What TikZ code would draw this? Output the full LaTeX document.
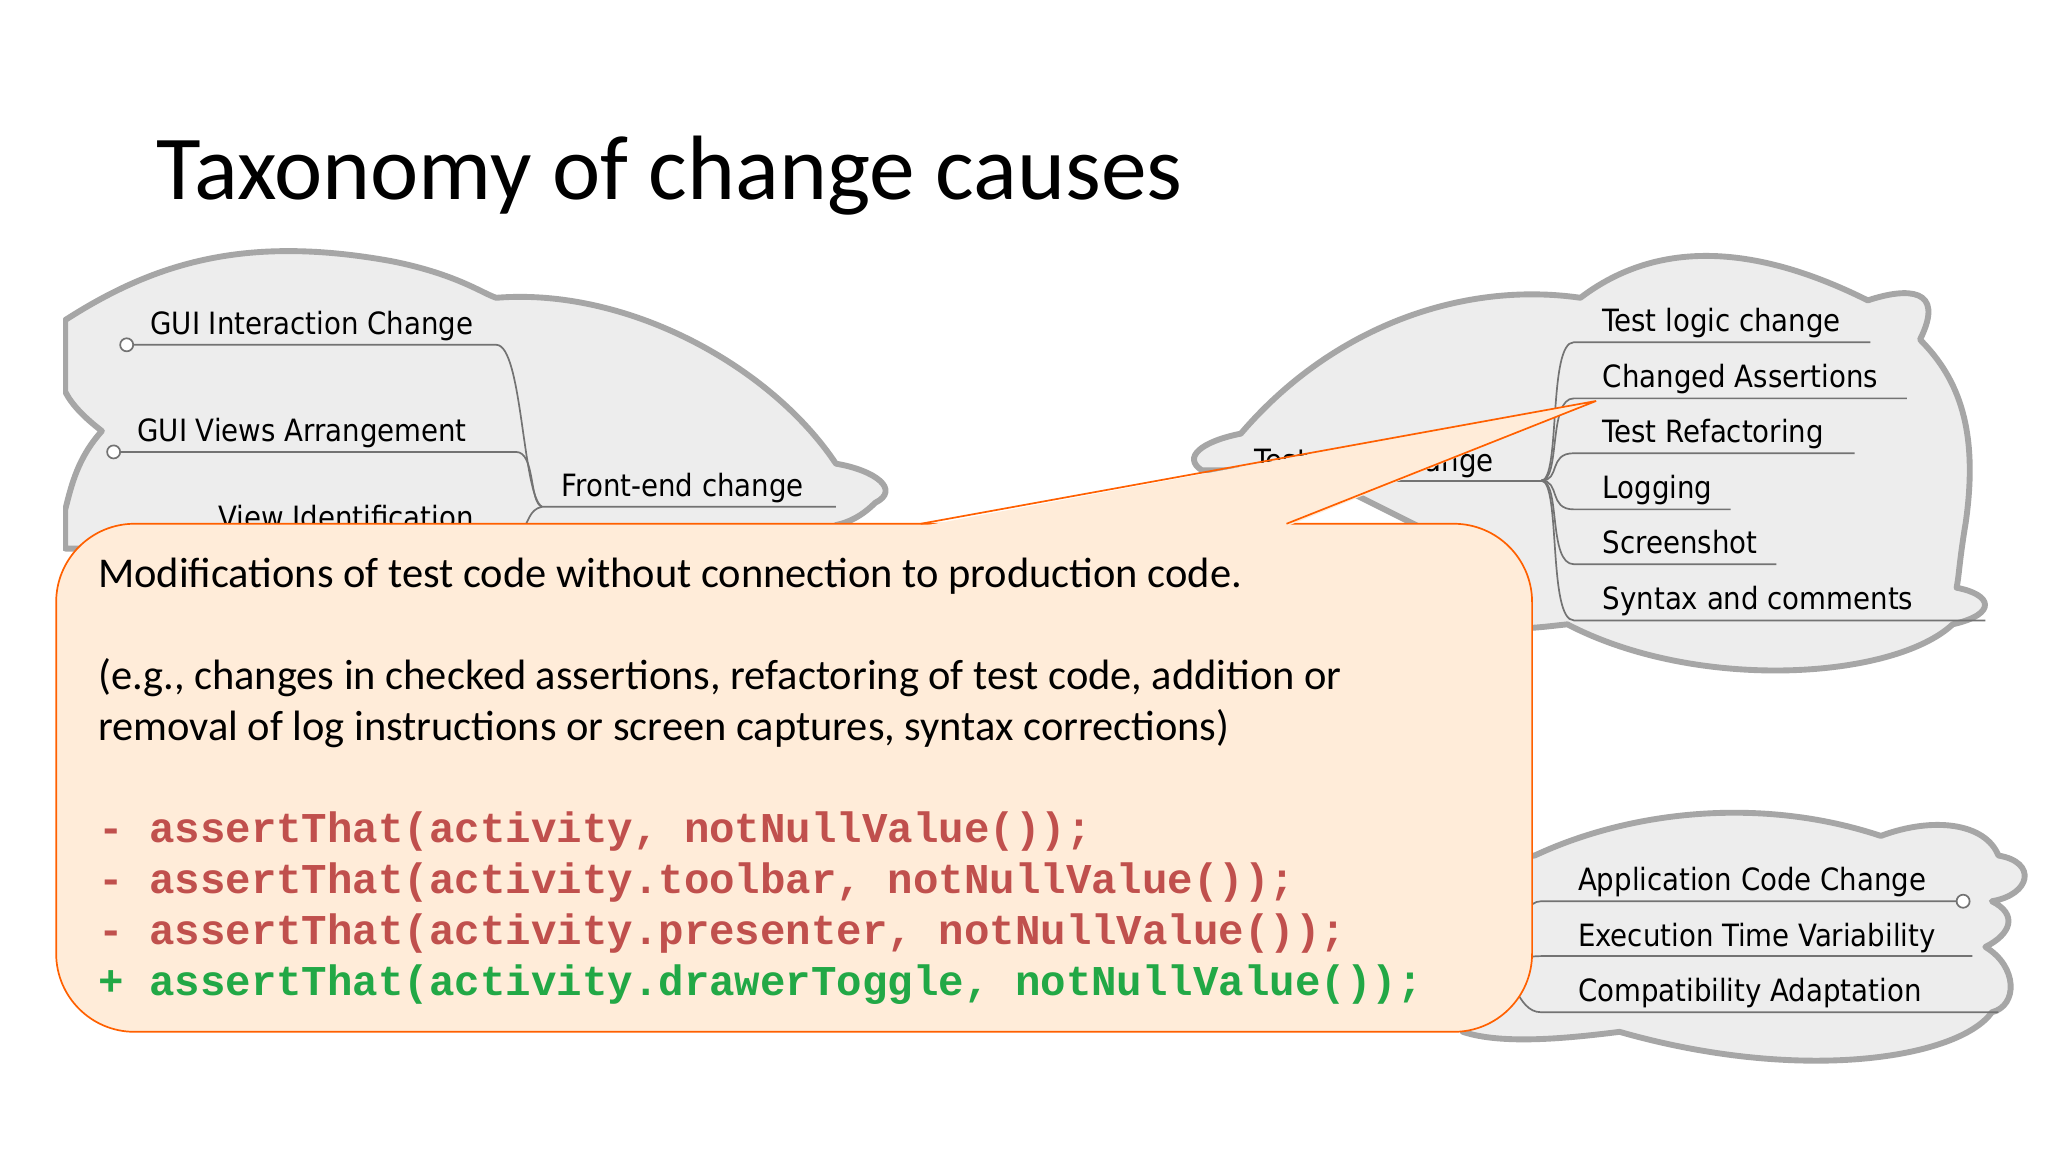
\documentclass[tikz,border=0pt]{standalone}
\usepackage{fontspec}
\setmainfont{Carlito}
\newfontfamily\lbl{DejaVu Sans Condensed}
\newfontfamily\code{Liberation Mono}
\begin{document}
\begin{tikzpicture}[x=1pt,y=-1pt,
  cloud/.style={fill=black!7,draw=black!35,line width=4.5pt,line join=round},
  br/.style={draw=black!55,line width=1.3pt},
  lab/.style={anchor=base west,inner sep=0,font=\lbl\fontsize{23.5}{26}\selectfont},
  txt/.style={anchor=base west,inner sep=0,font=\fontsize{32.5}{36}\selectfont},
  cd/.style={anchor=base west,inner sep=0,font=\code\bfseries\fontsize{32.5}{36}\selectfont}]
\useasboundingbox[fill=white] (0,0) rectangle (1568,882);
\node[anchor=base west,inner sep=0,font=\fontsize{70}{76}\selectfont] (title) at (120,153) {Taxonomy of change causes};
% left cloud
\draw[cloud] (50,245) .. controls (120,200) and (190,180) .. (300,200) .. controls (350,210) and (370,225) .. (380,228)
  .. controls (480,220) and (590,280) .. (640,355) .. controls (670,360) and (690,375) .. (670,385)
  .. controls (660,395) and (650,400) .. (640,402) -- (640,420) -- (50,420) -- (50,390)
  .. controls (55,370) and (60,350) .. (78,330) .. controls (65,320) and (55,310) .. (50,300) -- cycle;
\fill[white] (0,180) rectangle (48,430);
% right cloud
\draw[cloud] (920,360) .. controls (905,350) and (920,338) .. (950,332) .. controls (1020,250) and (1120,215) .. (1210,228)
  .. controls (1260,190) and (1330,180) .. (1430,230) .. controls (1460,220) and (1490,220) .. (1470,260)
  .. controls (1500,290) and (1515,330) .. (1505,400) .. controls (1500,430) and (1500,440) .. (1498,450)
  .. controls (1525,455) and (1530,470) .. (1495,478) .. controls (1450,520) and (1300,530) .. (1200,478)
  .. controls (1180,480) and (1150,485) .. (1120,476) -- (1120,420) -- (1000,360) -- cycle;
% bottom right cloud
\draw[cloud] (1175,655) .. controls (1250,620) and (1350,610) .. (1440,640) .. controls (1480,625) and (1520,630) .. (1530,655)
  .. controls (1560,660) and (1555,685) .. (1525,690) .. controls (1545,700) and (1540,715) .. (1520,725)
  .. controls (1545,740) and (1545,770) .. (1525,775) .. controls (1500,810) and (1380,830) .. (1240,790)
  .. controls (1200,795) and (1150,800) .. (1120,790) -- (1120,660) -- cycle;
% left tree
\coordinate (fe) at (415,388);
\draw[br] (97,264) -- (380,264) .. controls (400,264) and (400,380) .. (fe) -- (640,388);
\draw[br] (87,346) -- (395,346) .. controls (410,346) and (405,385) .. (fe);
\draw[br] (fe) .. controls (405,390) and (405,400) .. (400,405);
\draw[br,fill=white] (97,264) circle (5);
\draw[br,fill=white] (87,346) circle (5);
\node[lab] (gic) at (115,256) {GUI Interaction Change};
\node[lab] (gva) at (105,338) {GUI Views Arrangement};
\node[lab] (vid) at (167,405) {View Identification};
\node[lab] (fec) at (430,380) {Front-end change};
% right tree
\coordinate (tc) at (1180,368);
\draw[br] (1000,368) -- (tc);
\foreach \y/\e in {262/1432,305/1460,347/1420,390/1325,432/1360,475/1520}
  \draw[br] (tc) .. controls (1195,368) and (1185,\y) .. (1205,\y) -- (\e,\y);
\node[lab] (tcl) at (960,361) {Test code change};
\node[lab] (tlc) at (1227,254) {Test logic change};
\node[lab] (ca) at (1227,297) {Changed Assertions};
\node[lab] (tr) at (1227,339) {Test Refactoring};
\node[lab] (lg) at (1227,382) {Logging};
\node[lab] (ss) at (1227,424) {Screenshot};
\node[lab] (sc) at (1227,467) {Syntax and comments};
% bottom right tree
\coordinate (ex) at (1140,740);
\draw[br] (ex) .. controls (1160,740) and (1160,690) .. (1180,690) -- (1498,690);
\draw[br] (ex) .. controls (1160,740) and (1160,732) .. (1180,732) -- (1510,732);
\draw[br] (ex) .. controls (1160,740) and (1160,775) .. (1180,775) -- (1530,775);
\draw[br,fill=white] (1503,690) circle (5);
\node[lab] (acc) at (1208,682) {Application Code Change};
\node[lab] (etv) at (1208,725) {Execution Time Variability};
\node[lab] (cad) at (1208,767) {Compatibility Adaptation};
% callout
\colorlet{cofill}{orange!15!white}\colorlet{coline}{orange!75!red}
\draw[draw=coline,line width=1.3pt,fill=cofill,rounded corners=60] (43,401) rectangle (1173,790);
\fill[cofill] (705,403) -- (1222,307) -- (985,403) -- cycle;
\draw[coline,line width=1.3pt,line join=miter] (705,401) -- (1222,307) -- (985,401);
\node[txt] (t1) at (75,450) {Modifications of test code without connection to production code.};
\node[txt] (t2) at (75,528) {(e.g., changes in checked assertions, refactoring of test code, addition or};
\node[txt] (t3) at (75,567) {removal of log instructions or screen captures, syntax corrections)};
\definecolor{cred}{HTML}{C0504D}\definecolor{cgrn}{HTML}{22A846}
\node[cd,text=cred] (c1) at (75,645) {- assertThat(activity, notNullValue());};
\node[cd,text=cred] (c2) at (75,684) {- assertThat(activity.toolbar, notNullValue());};
\node[cd,text=cred] (c3) at (75,723) {- assertThat(activity.presenter, notNullValue());};
\node[cd,text=cgrn] (c4) at (75,762) {+ assertThat(activity.drawerToggle, notNullValue());};
\end{tikzpicture}
\end{document}
